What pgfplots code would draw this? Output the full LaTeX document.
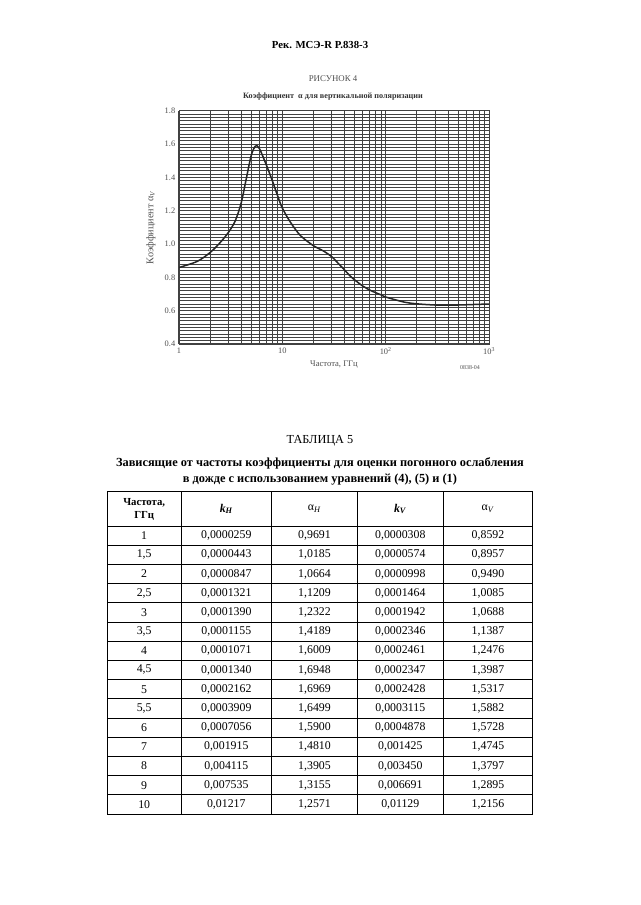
\documentclass[border=0pt]{standalone}
\usepackage{pgfplots}
\pgfplotsset{compat=1.18}
\usepackage{fontspec}
\setmainfont{Liberation Serif}

\definecolor{figgray}{RGB}{80,80,80}
\definecolor{gridc}{RGB}{65,65,65}
\newcommand{\fs}[1]{\fontsize{#1}{#1}\selectfont}

\newcommand{\trow}[6]{%
  \node at (144.2,#1) {#2};
  \node at (226.3,#1) {#3};
  \node at (314.5,#1) {#4};
  \node at (400.3,#1) {#5};
  \node at (488.0,#1) {#6};
}

\begin{document}
\begin{tikzpicture}
\begin{scope}[x=0.9302pt,y=-0.9302pt]
\fill[white] (0,0) rectangle (640,905);
\path[use as bounding box] (0,0) rectangle (640,905);
% page header
\node[font=\fs{10}\bfseries] at (320,45) {Рек. МСЭ-R P.838-3};
% figure titles
\node[font=\fs{8.2}, text=figgray] at (333,79) {РИСУНОК 4};
\node[font=\fs{7.6}\bfseries, text=black!80] at (333,97) {Коэффициент\ \ α для вертикальной поляризации};
\node[font=\fs{5.5}, text=figgray] at (470,368) {0838-04};
% table titles
\node[font=\fs{11.4}] at (320,441) {ТАБЛИЦА 5};
\node[font=\fs{11.5}\bfseries] at (320,463.5) {Зависящие от частоты коэффициенты для оценки погонного ослабления};
\node[font=\fs{11.5}\bfseries] at (320,479.5) {в дожде с использованием уравнений (4), (5) и (1)};
% table grid
\begin{scope}[line width=0.75pt]
\draw (107.3,491) rectangle (532.7,814);
\foreach \xx in {181,271.7,357.3,443.3} \draw (\xx,491) -- (\xx,814);
\foreach \i in {0,...,14} \draw (107.3,526+19.2*\i) -- (532.7,526+19.2*\i);
\end{scope}
\begin{scope}[font=\fs{11}]
\node[align=center, font=\fs{10}\bfseries] at (144.2,509) {Частота,\\[2pt]ГГц};
\node at (226.3,509) {\textbf{\textit{k}\textsubscript{\textit{H}}}};
\node at (314.5,509) {α\textsubscript{\textit{H}}};
\node at (400.3,509) {\textbf{\textit{k}\textsubscript{\textit{V}}}};
\node at (488.0,509) {α\textsubscript{\textit{V}}};
\trow{535.6}{1}{0,0000259}{0,9691}{0,0000308}{0,8592}
\trow{554.8}{1,5}{0,0000443}{1,0185}{0,0000574}{0,8957}
\trow{574.0}{2}{0,0000847}{1,0664}{0,0000998}{0,9490}
\trow{593.2}{2,5}{0,0001321}{1,1209}{0,0001464}{1,0085}
\trow{612.4}{3}{0,0001390}{1,2322}{0,0001942}{1,0688}
\trow{631.6}{3,5}{0,0001155}{1,4189}{0,0002346}{1,1387}
\trow{650.8}{4}{0,0001071}{1,6009}{0,0002461}{1,2476}
\trow{670.0}{4,5}{0,0001340}{1,6948}{0,0002347}{1,3987}
\trow{689.2}{5}{0,0002162}{1,6969}{0,0002428}{1,5317}
\trow{708.4}{5,5}{0,0003909}{1,6499}{0,0003115}{1,5882}
\trow{727.6}{6}{0,0007056}{1,5900}{0,0004878}{1,5728}
\trow{746.8}{7}{0,001915}{1,4810}{0,001425}{1,4745}
\trow{766.0}{8}{0,004115}{1,3905}{0,003450}{1,3797}
\trow{785.2}{9}{0,007535}{1,3155}{0,006691}{1,2895}
\trow{804.4}{10}{0,01217}{1,2571}{0,01129}{1,2156}
\end{scope}
\end{scope}
\begin{axis}[
  at={(179*0.9302pt,-344*0.9302pt)}, anchor=south west,
  scale only axis, width=288.4pt, height=217.0pt,
  xmode=log, xmin=1, xmax=1000, ymin=0.4, ymax=1.8,
  xtick={1,10,100,1000},
  xticklabels={1,10,10\textsuperscript{2},10\textsuperscript{3}},
  ytick={0.4,0.6,0.8,1.0,1.2,1.4,1.6,1.8},
  yticklabels={0.4,0.6,0.8,1.0,1.2,1.4,1.6,1.8},
  minor y tick num=9,
  grid=both,
  major grid style={gridc, line width=0.95pt},
  minor grid style={gridc, line width=0.75pt},
  axis line style={gridc, line width=0.9pt},
  major tick length=0pt, minor tick length=0pt,
  tick label style={font=\fs{7.8}, text=figgray},
  /pgf/number format/assume math mode=true,
  xlabel={Частота, ГГц},
  ylabel={Коэффициент α\textsubscript{\textit{V}}},
  every axis x label/.style={at={(axis description cs:0.5,-0.087)}, anchor=center, font=\fs{8}, text=figgray},
  every axis y label/.style={at={(axis description cs:-0.0903,0.5)}, rotate=90, anchor=center, font=\fs{9.5}, text=figgray},
]
\addplot[smooth, line width=1.4pt, color=black!85] coordinates {
(1,0.8592) (1.5,0.8957) (2,0.9490) (2.5,1.0085) (3,1.0688) (3.5,1.1387)
(4,1.2476) (4.5,1.3987) (5,1.5317) (5.5,1.5882) (6,1.5728) (7,1.4745)
(8,1.3797) (9,1.2895) (10,1.2156) (12,1.13) (15,1.05) (20,0.99)
(25,0.958) (30,0.924) (35,0.882) (40,0.844) (45,0.81) (50,0.785)
(60,0.748) (70,0.724) (80,0.708) (90,0.695) (100,0.682) (150,0.652)
(200,0.641) (300,0.634) (400,0.633) (500,0.634) (700,0.637) (1000,0.640)
};
\end{axis}
\end{tikzpicture}
\end{document}
